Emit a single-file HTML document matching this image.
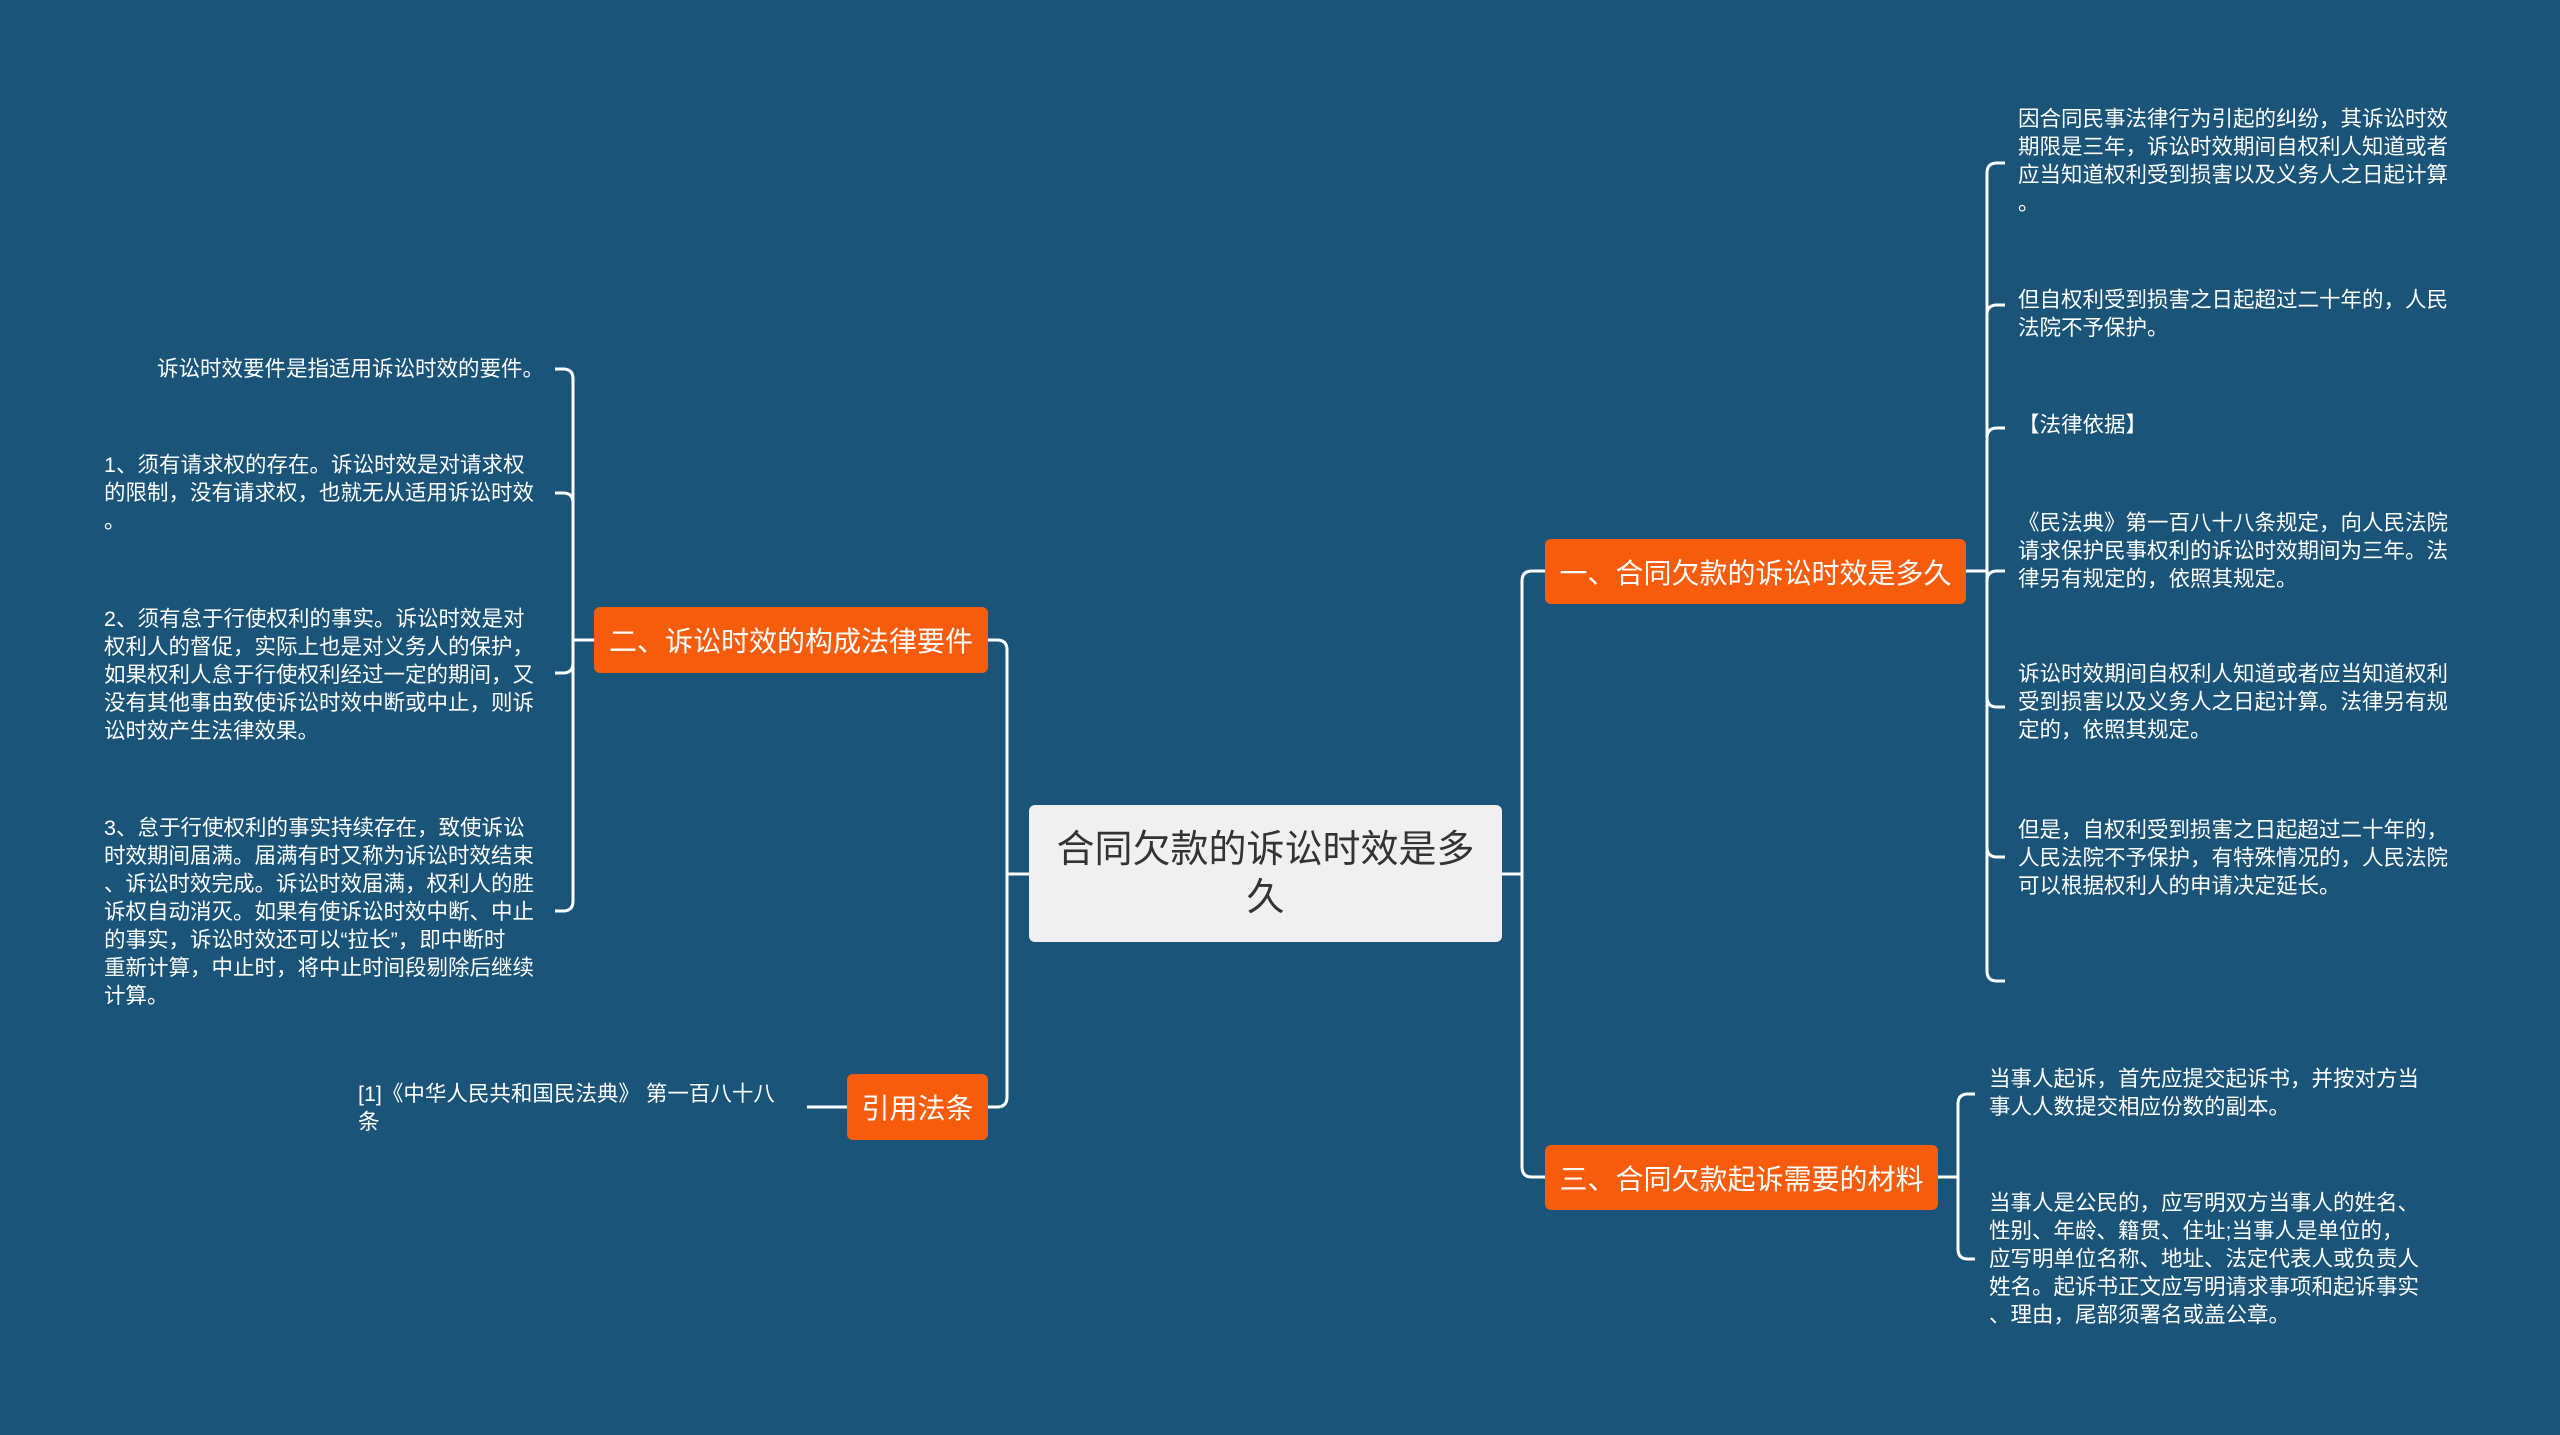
<!DOCTYPE html>
<html><head><meta charset="utf-8"><style>
body{margin:0;width:2560px;height:1435px;background:#1a5479;overflow:hidden;position:relative;font-family:"Liberation Sans","Noto Sans CJK SC",sans-serif;}
.t{position:absolute;color:#fff;font-size:21.5px;line-height:28px;line-break:anywhere;word-break:break-all;}
.b{position:absolute;background:#f75c0d;color:#fff;font-size:28px;border-radius:6px;display:flex;align-items:center;justify-content:center;white-space:nowrap;}
.c{position:absolute;left:1029px;top:805px;width:473px;height:137px;background:#f0f0f0;border-radius:6px;color:#333;font-size:38px;line-height:48px;display:flex;align-items:center;justify-content:center;text-align:center;}
</style></head><body>
<svg width="2560" height="1435" style="position:absolute;left:0;top:0" fill="none" stroke="#fff" stroke-width="3">
<path d="M1502 874 H1522 M1545 571 H1532 Q1522 571 1522 581 V1167 Q1522 1177 1532 1177 H1545"/>
<path d="M1029 874 H1007 M988 640 H997 Q1007 640 1007 650 V1097 Q1007 1107 997 1107 H988"/>
<path d="M1966 571 H1987 M2005 163 H1997 Q1987 163 1987 173 V971 Q1987 981 1997 981 H2005 M1987 315 Q1987 305 1997 305 H2005 M1987 438 Q1987 428 1997 428 H2005 M1987 581 Q1987 571 1997 571 H2005 M1987 697 Q1987 707 1997 707 H2005 M1987 847 Q1987 857 1997 857 H2005"/>
<path d="M1938 1177 H1958 M1975 1094 H1968 Q1958 1094 1958 1104 V1249 Q1958 1259 1968 1259 H1975"/>
<path d="M594 640 H573 M555 369 H563 Q573 369 573 379 V901 Q573 911 563 911 H555 M573 503 Q573 493 563 493 H555 M573 663 Q573 673 563 673 H555"/>
<path d="M847 1107 H807"/>
</svg>
<div class="c">合同欠款的诉讼时效是多<br>久</div>
<div class="b" style="left:1545px;top:539px;width:421px;height:65px">一、合同欠款的诉讼时效是多久</div>
<div class="b" style="left:1545px;top:1145px;width:393px;height:65px">三、合同欠款起诉需要的材料</div>
<div class="b" style="left:594px;top:607px;width:394px;height:66px">二、诉讼时效的构成法律要件</div>
<div class="b" style="left:847px;top:1074px;width:141px;height:66px">引用法条</div>

<div class="t" style="left:2018px;top:105px;width:442px">因合同民事法律行为引起的纠纷，其诉讼时效期限是三年，诉讼时效期间自权利人知道或者应当知道权利受到损害以及义务人之日起计算。</div>
<div class="t" style="left:2018px;top:286px;width:442px">但自权利受到损害之日起超过二十年的，人民法院不予保护。</div>
<div class="t" style="left:2018px;top:411px;width:442px">【法律依据】</div>
<div class="t" style="left:2018px;top:509px;width:442px">《民法典》第一百八十八条规定，向人民法院请求保护民事权利的诉讼时效期间为三年。法律另有规定的，依照其规定。</div>
<div class="t" style="left:2018px;top:660px;width:442px">诉讼时效期间自权利人知道或者应当知道权利受到损害以及义务人之日起计算。法律另有规定的，依照其规定。</div>
<div class="t" style="left:2018px;top:816px;width:442px">但是，自权利受到损害之日起超过二十年的，人民法院不予保护，有特殊情况的，人民法院可以根据权利人的申请决定延长。</div>

<div class="t" style="left:1989px;top:1065px;width:438px">当事人起诉，首先应提交起诉书，并按对方当事人人数提交相应份数的副本。</div>
<div class="t" style="left:1989px;top:1189px;width:438px">当事人是公民的，应写明双方当事人的姓名、<br>性别、年龄、籍贯、住址;当事人是单位的，<br>应写明单位名称、地址、法定代表人或负责人<br>姓名。起诉书正文应写明请求事项和起诉事实<br>、理由，尾部须署名或盖公章。</div>

<div class="t" style="left:104px;top:355px;width:440px;text-align:right">诉讼时效要件是指适用诉讼时效的要件。</div>
<div class="t" style="left:104px;top:451px;width:436px">1、须有请求权的存在。诉讼时效是对请求权的限制，没有请求权，也就无从适用诉讼时效。</div>
<div class="t" style="left:104px;top:605px;width:436px">2、须有怠于行使权利的事实。诉讼时效是对权利人的督促，实际上也是对义务人的保护，如果权利人怠于行使权利经过一定的期间，又没有其他事由致使诉讼时效中断或中止，则诉讼时效产生法律效果。</div>
<div class="t" style="left:104px;top:814px;width:436px">3、怠于行使权利的事实持续存在，致使诉讼时效期间届满。届满有时又称为诉讼时效结束、诉讼时效完成。诉讼时效届满，权利人的胜诉权自动消灭。如果有使诉讼时效中断、中止的事实，诉讼时效还可以“拉长”，即中断时<br>重新计算，中止时，将中止时间段剔除后继续<br>计算。</div>
<div class="t" style="left:358px;top:1080px;width:430px">[1]《中华人民共和国民法典》 第一百八十八条</div>
</body></html>
